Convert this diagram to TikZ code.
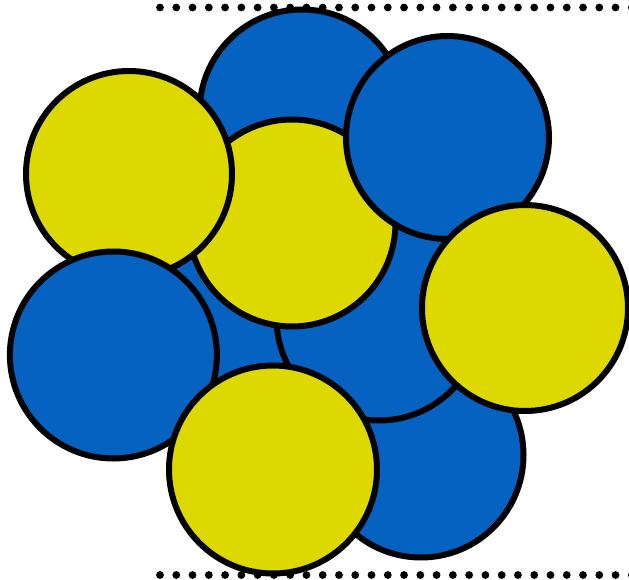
\documentclass[tikz,border=0pt]{standalone}
\usepackage{tikz}
\definecolor{blueball}{RGB}{5,98,192}
\definecolor{yellowball}{RGB}{221,216,0}
\tikzset{
  ball/.style={draw=black, line width=6pt},
  blueb/.style={ball, fill=blueball},
  yellowb/.style={ball, fill=yellowball},
  dotmark/.style={fill=black}
}
\begin{document}
\begin{tikzpicture}[x=1pt,y=-1pt]
\useasboundingbox (0,0) rectangle (629,580);
\clip (0,0) rectangle (629,580);
% hidden ball at the back
\draw[blueb] (240,310) circle[radius=95];
% back to front
\draw[blueb] (421,455) circle[radius=102.5];   % blue bottom right
\draw[blueb] (379,318) circle[radius=102.5];   % blue centre
\draw[blueb] (302,112) circle[radius=102.5];   % blue top
\draw[yellowb] (292,223) circle[radius=103.5]; % yellow centre
\draw[yellowb] (129,174) circle[radius=103];   % yellow left
\draw[blueb] (113.4,355) circle[radius=103.5]; % blue left
\draw[blueb] (447.5,137.5) circle[radius=101.5]; % blue top right
\draw[yellowb] (525,308) circle[radius=103];   % yellow right
\draw[yellowb] (273,469.5) circle[radius=104]; % yellow bottom
% dotted boundary lines
\foreach \i in {0,...,29} {
  \fill[dotmark] (160+16.27*\i,7.5) circle[radius=3.9];
  \fill[dotmark] (160+16.27*\i,575) circle[radius=3.9];
}
\end{tikzpicture}
\end{document}
